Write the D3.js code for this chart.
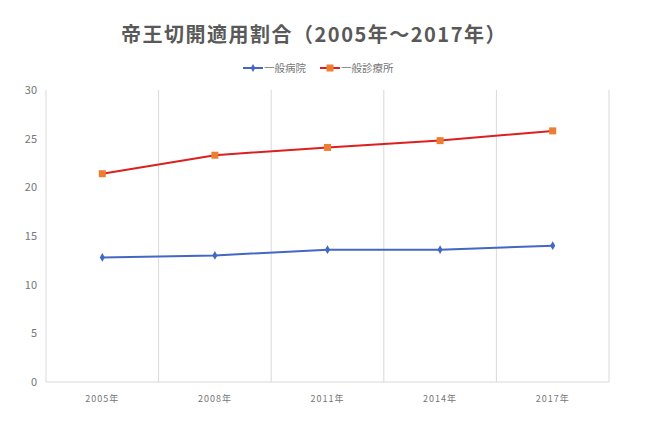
<!DOCTYPE html>
<html>
<head>
<meta charset="utf-8">
<script src="https://cdn.jsdelivr.net/npm/d3@7"></script>
<style>
  body { margin: 0; background: #fff; }
  text { font-family: "Noto Sans CJK JP", "Noto Sans", sans-serif; }
</style>
</head>
<body>
<div id="chart"></div>
<script>
const width = 650, height = 425;

const years = ["2005年", "2008年", "2011年", "2014年", "2017年"];
const hospital = [12.8, 13.0, 13.6, 13.6, 14.0];
const clinic = [21.4, 23.3, 24.1, 24.8, 25.8];
const yTicks = [0, 5, 10, 15, 20, 25, 30];

const margin = { top: 90, right: 41, bottom: 43, left: 46 };

const svg = d3.select("#chart").append("svg")
  .attr("width", width)
  .attr("height", height);

const x = d3.scaleBand()
  .domain(years)
  .range([margin.left, width - margin.right]);

const y = d3.scaleLinear()
  .domain([0, 30])
  .range([height - margin.bottom, margin.top]);

// title
svg.append("text")
  .attr("x", 314).attr("y", 42)
  .attr("text-anchor", "middle")
  .style("font-size", "20px")
  .style("letter-spacing", "1.5px")
  .style("font-weight", "bold")
  .style("fill", "#595959")
  .text("帝王切開適用割合（2005年～2017年）");

// vertical gridlines (band edges)
const edges = years.map(d => x(d)).concat([x.range()[1]]);
svg.selectAll(".vgrid")
  .data(edges)
  .enter().append("line")
  .attr("x1", d => d).attr("x2", d => d)
  .attr("y1", y(30)).attr("y2", y(0))
  .style("stroke", "#d9d9d9")
  .style("stroke-width", 1);

// bottom axis line
svg.append("line")
  .attr("x1", x.range()[0]).attr("x2", x.range()[1])
  .attr("y1", y(0)).attr("y2", y(0))
  .style("stroke", "#d9d9d9");

// y tick labels
svg.selectAll(".ylab")
  .data(yTicks)
  .enter().append("text")
  .attr("x", 37)
  .attr("y", d => y(d) + 4)
  .attr("text-anchor", "end")
  .style("font-size", "11px")
  .style("fill", "#767676")
  .text(d => d);

// x tick labels
svg.selectAll(".xlab")
  .data(years)
  .enter().append("text")
  .attr("x", d => x(d) + x.bandwidth() / 2)
  .attr("y", 402)
  .attr("text-anchor", "middle")
  .style("font-size", "9px")
  .style("letter-spacing", "1px")
  .style("fill", "#767676")
  .text(d => d);

const line = d3.line()
  .x((d, i) => x(years[i]) + x.bandwidth() / 2)
  .y(d => y(d));

svg.append("path")
  .datum(hospital)
  .attr("d", line)
  .style("fill", "none")
  .style("stroke", "#4466c4")
  .style("stroke-width", 2);

svg.selectAll(".hp")
  .data(hospital)
  .enter().append("path")
  .attr("transform", (d, i) => `translate(${x(years[i]) + x.bandwidth() / 2},${y(d)})`)
  .attr("d", d3.symbol().type(d3.symbolDiamond).size(22))
  .style("fill", "#4466c4");

svg.append("path")
  .datum(clinic)
  .attr("d", line)
  .style("fill", "none")
  .style("stroke", "#dd1f1f")
  .style("stroke-width", 2);

svg.selectAll(".cp")
  .data(clinic)
  .enter().append("rect")
  .attr("x", (d, i) => x(years[i]) + x.bandwidth() / 2 - 3.5)
  .attr("y", d => y(d) - 3.5)
  .attr("width", 7).attr("height", 7)
  .style("fill", "#ed7d31");

// legend
const legend = [
  { name: "一般病院", color: "#4466c4", marker: "diamond", x: 243 },
  { name: "一般診療所", color: "#dd1f1f", fill: "#ed7d31", marker: "square", x: 320 }
];
const lg = svg.selectAll(".lg").data(legend).enter().append("g")
  .attr("transform", d => `translate(${d.x},68)`);
lg.append("line")
  .attr("x1", 0).attr("x2", 20)
  .style("stroke", d => d.color)
  .style("stroke-width", 2);
lg.each(function(d) {
  const g = d3.select(this);
  if (d.marker === "diamond") {
    g.append("path").attr("transform", "translate(10,0)")
      .attr("d", d3.symbol().type(d3.symbolDiamond).size(18))
      .style("fill", d.color);
  } else {
    g.append("rect").attr("x", 6.5).attr("y", -3.5)
      .attr("width", 7).attr("height", 7)
      .style("fill", d.fill);
  }
});
lg.append("text")
  .attr("x", 21).attr("y", 4)
  .style("font-size", "10.5px")
  .style("fill", "#767676")
  .text(d => d.name);
</script>
</body>
</html>
